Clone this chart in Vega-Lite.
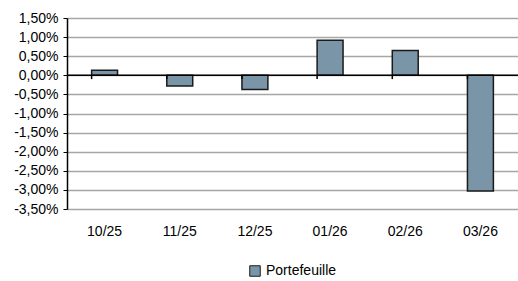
{
  "$schema": "https://vega.github.io/schema/vega-lite/v6.json",
  "width": 451,
  "height": 191,
  "autosize": {"type": "none"},
  "padding": {"left": 67, "top": 18, "right": 0, "bottom": 72},
  "background": "white",
  "config": {
    "locale": {"number": {"decimal": ",", "thousands": " ", "grouping": [3], "currency": ["", " €"], "minus": "-"}},
    "font": "Liberation Sans",
    "view": {"stroke": null},
    "axis": {"labelFont": "Liberation Sans", "labelFontSize": 14, "labelColor": "#000000"},
    "legend": {"labelFont": "Liberation Sans", "labelFontSize": 14, "labelColor": "#000000"}
  },
  "data": {
    "values": [
      {"mois": "10/25", "valeur": 0.0013, "serie": "Portefeuille"},
      {"mois": "11/25", "valeur": -0.0028, "serie": "Portefeuille"},
      {"mois": "12/25", "valeur": -0.0037, "serie": "Portefeuille"},
      {"mois": "01/26", "valeur": 0.0092, "serie": "Portefeuille"},
      {"mois": "02/26", "valeur": 0.0065, "serie": "Portefeuille"},
      {"mois": "03/26", "valeur": -0.0303, "serie": "Portefeuille"}
    ]
  },
  "layer": [
    {
      "mark": {"type": "bar", "stroke": "#1a1a1a", "strokeWidth": 1.5},
      "encoding": {
        "x": {
          "field": "mois", "type": "nominal", "sort": null,
          "scale": {"paddingInner": 0.655, "paddingOuter": 0.3275},
          "axis": {"title": null, "domain": false, "ticks": false, "grid": false, "labelAngle": 0, "labelPadding": 15}
        },
        "y": {
          "field": "valeur", "type": "quantitative",
          "scale": {"domain": [-0.035, 0.015], "nice": false, "zero": false},
          "axis": {
            "title": null, "format": ".2%",
            "values": [-0.035, -0.03, -0.025, -0.02, -0.015, -0.01, -0.005, 0, 0.005, 0.01, 0.015],
            "tickCount": 11,
            "labelOverlap": false,
            "domainColor": "#000000", "domainWidth": 1.5,
            "tickColor": "#000000", "tickSize": 4, "tickWidth": 1,
            "grid": true, "gridColor": "#a6a6a6", "gridWidth": 1.5,
            "labelPadding": 5
          }
        },
        "color": {
          "field": "serie", "type": "nominal",
          "scale": {"range": ["#7a95a8"]},
          "legend": {
            "title": null, "orient": "none", "direction": "horizontal",
            "legendX": 181, "legendY": 246,
            "symbolType": "square", "symbolSize": 110, "symbolStrokeColor": "#1a1a1a", "symbolStrokeWidth": 1,
            "labelOffset": 4
          }
        }
      }
    },
    {
      "data": {"values": [{"zero": 0}]},
      "mark": {"type": "rule", "color": "#000000", "strokeWidth": 1.5},
      "encoding": {
        "y": {"field": "zero", "type": "quantitative"}
      }
    },
    {
      "mark": {"type": "rule", "color": "#000000", "strokeWidth": 1.5},
      "encoding": {
        "x": {"field": "mois", "type": "nominal", "sort": null, "bandPosition": 0},
        "y": {"datum": 0},
        "y2": {"datum": -0.001}
      }
    }
  ]
}
